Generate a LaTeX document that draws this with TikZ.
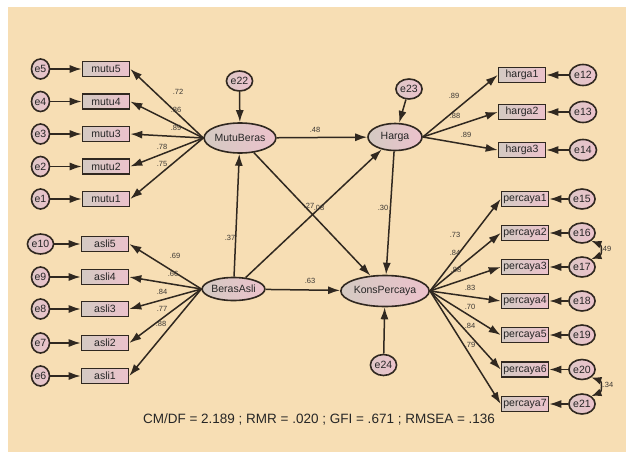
\documentclass[tikz,border=0pt]{standalone}
\usepackage{fontspec}
\setmainfont{Liberation Sans}
\usetikzlibrary{shapes.geometric,arrows.meta}
\definecolor{bg}{RGB}{247,222,180}
\definecolor{ink}{RGB}{48,40,32}
\definecolor{fillL}{RGB}{212,202,194}
\definecolor{fillR}{RGB}{236,194,204}
\definecolor{lab}{RGB}{60,56,52}
\tikzset{
  obs/.style={rectangle,draw=ink,line width=1.6pt,minimum width=47pt,minimum height=15pt,inner sep=0pt,left color=fillL,right color=fillR,font=\fontsize{10.5}{12}\selectfont,text=black!85},
  lat/.style={ellipse,draw=ink,line width=1.6pt,inner sep=0pt,left color=fillL,right color=fillR,font=\fontsize{10.5}{12}\selectfont,text=black!85},
  err/.style={ellipse,draw=ink,line width=1.6pt,inner sep=0.5pt,minimum width=18pt,minimum height=20pt,left color=fillL!60!fillR,right color=fillR,font=\fontsize{10.5}{12}\selectfont,text=black!85},
  arr/.style={draw=ink,line width=1.5pt,-{Latex[length=12pt,width=8pt]}},
  darr/.style={draw=ink,line width=1.5pt,{Latex[length=10pt,width=8pt]}-{Latex[length=10pt,width=8pt]}},
  lbl/.style={font=\fontsize{7.5}{9}\selectfont,text=lab,inner sep=0pt}
}
\begin{document}
\begin{tikzpicture}[x=1pt,y=-1pt]
\useasboundingbox (0,0) rectangle (626,452);
\fill[white] (0,0) rectangle (626,452);
\fill[bg] (8,7) rectangle (626,452);
% latent
\node[lat,minimum width=67pt,minimum height=30pt] (MB) at (240,138) {MutuBeras};
\node[lat,minimum width=54pt,minimum height=27pt] (HG) at (395,137) {Harga};
\node[lat,minimum width=77pt,minimum height=31pt] (KP) at (385,291) {KonsPercaya};
\node[lat,minimum width=57pt,minimum height=23pt] (BA) at (233.5,289) {BerasAsli};
% disturbances
\node[err,minimum width=20pt] (e22) at (239.5,81) {e22};
\node[err,minimum width=20pt] (e23) at (409,89) {e23};
\node[err,minimum width=22pt,minimum height=21pt] (e24) at (383.5,365) {e24};
% mutu
\foreach \i/\y in {5/69,4/101.5,3/134,2/166.5,1/199}{
  \node[obs] (mutu\i) at (106,\y) {mutu\i};
  \node[err] (e\i) at (40.5,\y) {e\i};
  \draw[arr] (e\i) -- (mutu\i.west);
  \draw[arr] (MB.west) -- (mutu\i.east);
}
% asli
\foreach \i/\e/\y in {5/10/244,4/9/277,3/8/309,2/7/343,1/6/376}{
  \node[obs] (asli\i) at (105,\y) {asli\i};
  \node[err] (e\e) at (40.5,\y) {e\e};
  \draw[arr] (e\e) -- (asli\i.west);
  \draw[arr] (BA.west) -- (asli\i.east);
}
% harga
\foreach \i/\e/\y in {1/12/75,2/13/112,3/14/150}{
  \node[obs] (harga\i) at (522,\y) {harga\i};
  \node[err,minimum width=27pt,minimum height=21pt] (e\e) at (583,\y) {e\e};
  \draw[arr] (e\e) -- (harga\i.east);
  \draw[arr] (HG.east) -- (harga\i.west);
}
% percaya
\foreach \i/\e/\y in {1/15/199,2/16/233,3/17/267,4/18/301,5/19/335,6/20/369.5,7/21/404}{
  \node[obs] (percaya\i) at (525,\y) {percaya\i};
  \node[err,minimum width=21pt] (e\e) at (582,\y) {e\e};
  \draw[arr] (e\e) -- (percaya\i.east);
  \draw[arr] (KP.east) -- (percaya\i.west);
}
% disturbance arrows
\draw[arr] (e22) -- (MB);
\draw[arr] (e23) -- (HG);
\draw[arr] (e24) -- (KP);
% structural
\draw[arr] (MB) -- (HG);
\draw[arr] (MB) -- (KP);
\draw[arr] (BA) -- (MB);
\draw[arr] (BA) -- (HG);
\draw[arr] (BA) -- (KP);
\draw[arr] (HG) -- (KP);
% correlations
\draw[darr] (e16.-40) .. controls (602,245) and (602,255) .. (e17.40);
\draw[darr] (e20.-40) .. controls (602,381) and (602,392) .. (e21.40);
% labels
\node[lbl] (l1) at (178,92) {.72};
\node[lbl] (l2) at (176,110) {.86};
\node[lbl] (l3) at (176,128) {.89};
\node[lbl] (l4) at (162,147) {.78};
\node[lbl] (l5) at (162,164) {.75};
\node[lbl] (l6) at (175,256) {.69};
\node[lbl] (l7) at (173,274) {.66};
\node[lbl] (l8) at (162,292) {.84};
\node[lbl] (l9) at (162,309) {.77};
\node[lbl] (l10) at (161,324) {.88};
\node[lbl] (l11) at (315,130) {.48};
\node[lbl] (l12) at (230,238) {.37};
\node[lbl] (l13) at (309,206) {.27};
\node[lbl] (l14) at (319,208) {.08};
\node[lbl] (l15) at (383,208) {.30};
\node[lbl] (l16) at (310,281) {.63};
\node[lbl] (l17) at (454,96) {.89};
\node[lbl] (l18) at (455,116) {.88};
\node[lbl] (l19) at (466,135) {.89};
\node[lbl] (l20) at (455,235) {.73};
\node[lbl] (l21) at (455,253) {.84};
\node[lbl] (l22) at (456,270) {.88};
\node[lbl] (l23) at (470,288) {.83};
\node[lbl] (l24) at (470,307) {.70};
\node[lbl] (l25) at (470,326) {.84};
\node[lbl] (l26) at (470,345) {.79};
\node[lbl] (l27) at (606,249) {.49};
\node[lbl] (l28) at (608,385) {.34};
\node[font=\fontsize{13.5}{16}\selectfont,text=black!85,inner sep=0pt] (fit) at (319,419) {CM/DF = 2.189 ; RMR = .020 ; GFI = .671 ; RMSEA = .136};
\end{tikzpicture}
\end{document}
